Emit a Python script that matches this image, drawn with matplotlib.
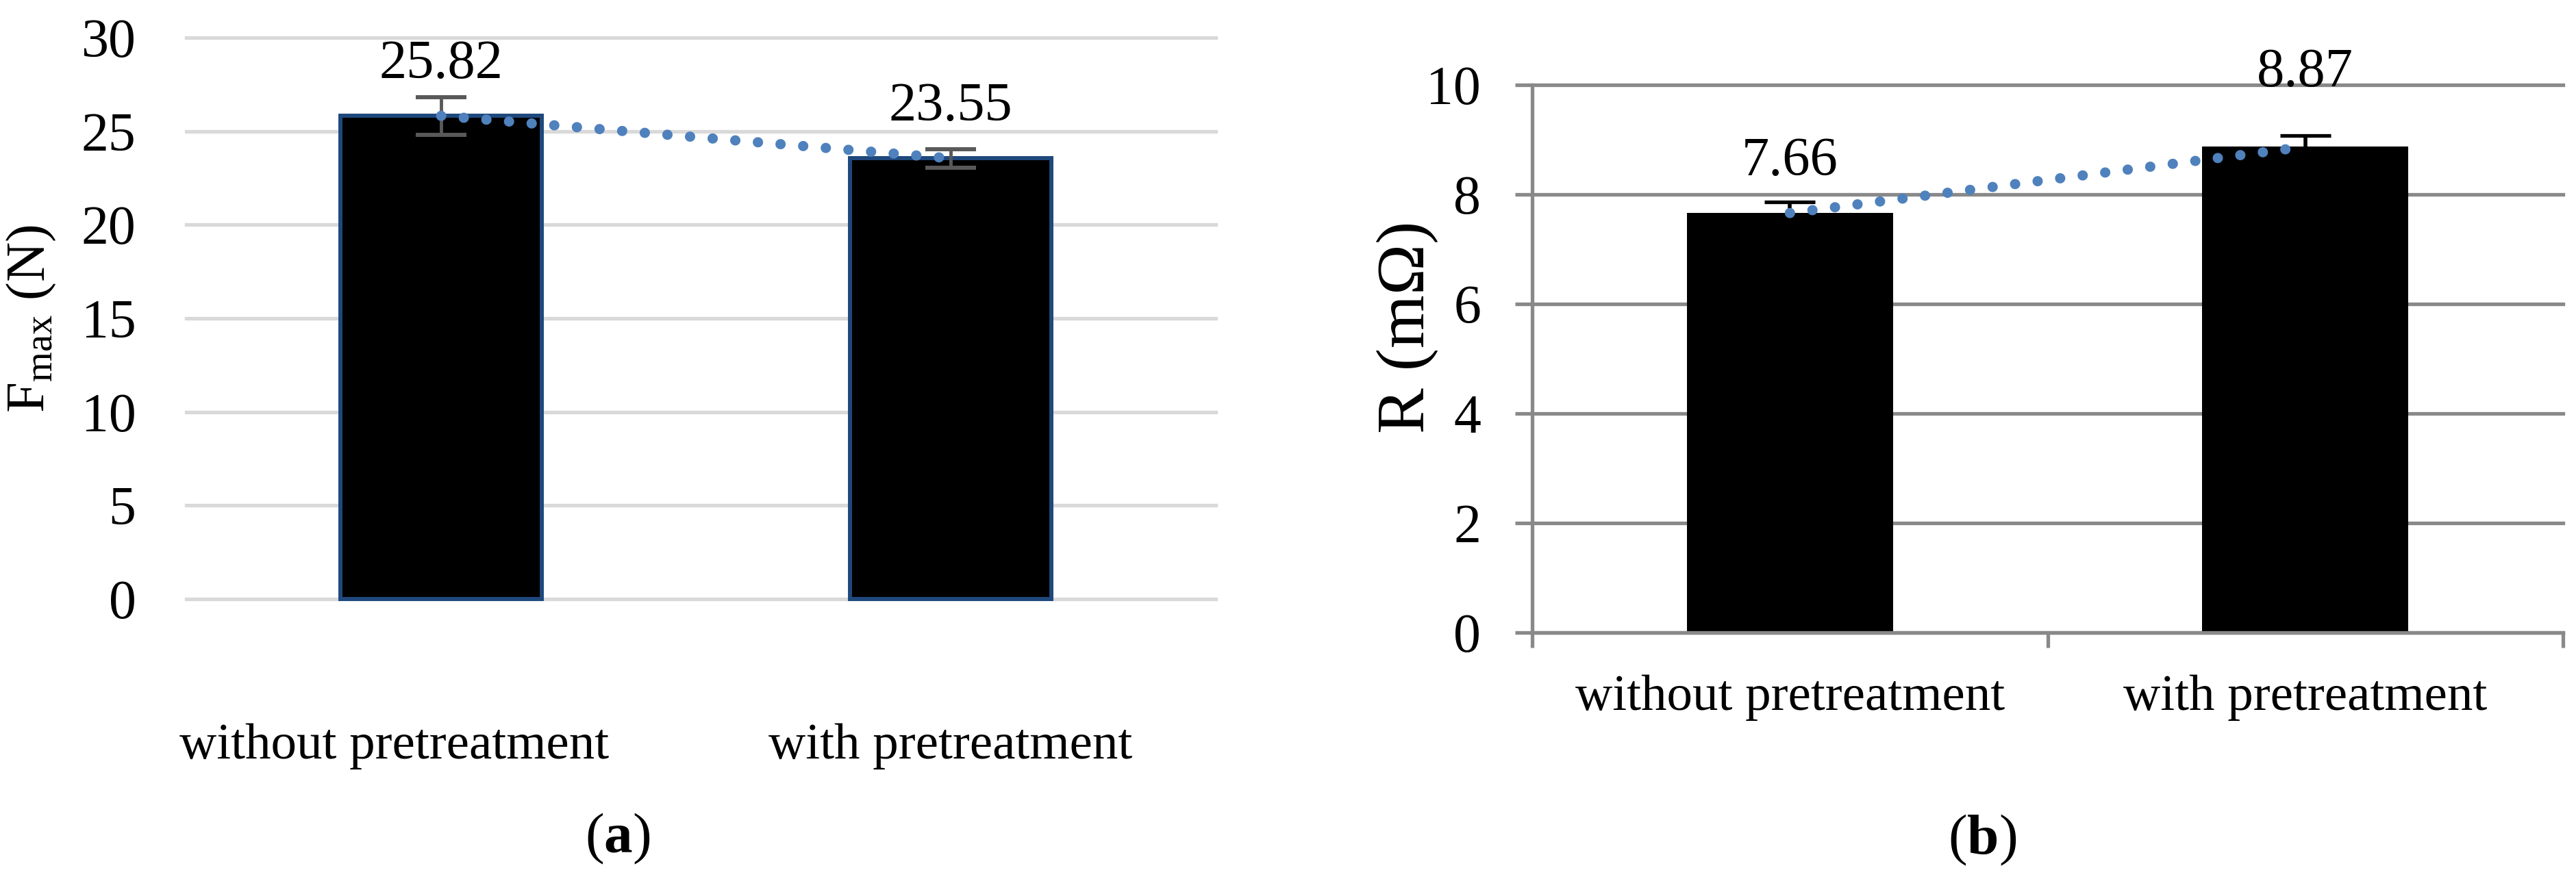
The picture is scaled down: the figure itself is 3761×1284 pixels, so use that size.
import matplotlib
matplotlib.use("Agg")
import matplotlib.pyplot as plt
from matplotlib.transforms import ScaledTranslation

#fonts: Times-like serif, mathtext in the same family
plt.rcParams['font.family'] = ['Liberation Serif', 'DejaVu Serif']
plt.rcParams['mathtext.fontset'] = 'custom'
plt.rcParams['mathtext.rm'] = 'Liberation Serif'
plt.rcParams['mathtext.bf'] = 'Liberation Serif:bold'
plt.rcParams['mathtext.it'] = 'Liberation Serif:italic'

#data
categories = ["without pretreatment", "with pretreatment"]
fmax_values = [25.82, 23.55]
fmax_errors = [1.0, 0.5]
r_values = [7.66, 8.87]
r_errors = [0.2, 0.2]
fmax_ticks = [0, 5, 10, 15, 20, 25, 30]
r_ticks = [0, 2, 4, 6, 8, 10]

#figure in pixels (dpi 100 -> 1 px = 0.72 pt)
W, H = 3762, 1284
fig = plt.figure(figsize=(W / 100, H / 100), dpi=100)


def px_rect(left, top, right, bottom):
    return [left / W, 1 - bottom / H, (right - left) / W, (bottom - top) / H]


x = list(range(len(categories)))
dot_style = dict(color='#4f81bd', linewidth=10.8, linestyle=(0, (0.01, 2.2)),
                 dash_capstyle='round', zorder=4)

#----- panel (a): Fmax -----
ax1 = fig.add_axes(px_rect(272, 55, 1775, 875))
ax1.set_axisbelow(True)
bars1 = ax1.bar(x, fmax_values, width=0.395, color='black', edgecolor='#1f497d',
                linewidth=4.3, zorder=2)
for b in bars1:
    b.set_clip_on(False)
ax1.errorbar(x, fmax_values, yerr=fmax_errors, fmt='none', ecolor='#595959',
             elinewidth=3.5, capsize=26.6, capthick=4.3, zorder=3)
ax1.plot(x, fmax_values, **dot_style)

ax1.set_xlim(-0.5, 1.52)
ax1.set_ylim(0, 30)
ax1.set_yticks(fmax_ticks)
ax1.yaxis.grid(True, color='#d9d9d9', linewidth=3.8)
for gl in ax1.yaxis.get_gridlines():
    gl.set_clip_on(False)
for s in ax1.spines.values():
    s.set_visible(False)
ax1.tick_params(axis='y', length=0, pad=53, labelsize=57.5)
ax1.set_xticks(x)
ax1.set_xticklabels(categories)
ax1.tick_params(axis='x', length=0, pad=131, labelsize=54)
#first category label sits a bit left of its bar in the original
lbl = ax1.get_xticklabels()[0]
lbl.set_transform(lbl.get_transform() + ScaledTranslation(-0.68, 0, fig.dpi_scale_trans))

for xi, v, off in zip(x, fmax_values, [39.6, 39.6]):
    ax1.annotate(f"{v:.2f}", (xi, v), xytext=(0, off), textcoords='offset points',
                 ha='center', va='baseline', fontsize=58)

fig.text(46 / W, 1 - 466 / H, r"F$_{\mathrm{max}}$ (N)", rotation=90,
         ha='center', va='center', fontsize=58)
fig.text(902 / W, 1 - 1245 / H, r"$(\mathbf{a})$", ha='center', va='baseline', fontsize=60)

#----- panel (b): R -----
grey = '#898989'
ax2 = fig.add_axes(px_rect(2237, 124, 3742, 924))
ax2.set_axisbelow(True)
ax2.bar(x, r_values, width=0.40, color='black', zorder=2)
ax2.errorbar(x, r_values, yerr=r_errors, fmt='none', ecolor='black',
             elinewidth=4, capsize=26.6, capthick=3.8, zorder=3)
ax2.plot(x, r_values, **dot_style)

ax2.set_xlim(-0.5, 1.5)
ax2.set_ylim(0, 10)
ax2.set_yticks(r_ticks)
ax2.yaxis.grid(True, color=grey, linewidth=3.8)
for gl in ax2.yaxis.get_gridlines():
    gl.set_clip_on(False)
ax2.spines['top'].set_visible(False)
ax2.spines['right'].set_visible(False)
for side in ['left', 'bottom']:
    ax2.spines[side].set_color(grey)
    ax2.spines[side].set_linewidth(3.8)
ax2.tick_params(axis='y', direction='out', length=18, width=3.8, color=grey,
                pad=36, labelsize=57.5)
ax2.set_xticks(x)
ax2.set_xticklabels(categories)
ax2.set_xticks([-0.5, 0.5, 1.5], minor=True)
ax2.tick_params(axis='x', which='major', length=0, pad=44, labelsize=54)
ax2.tick_params(axis='x', which='minor', direction='out', length=16, width=3.8, color=grey)

for xi, v, off in zip(x, r_values, [39.6, 64.0]):
    ax2.annotate(f"{v:.2f}", (xi, v), xytext=(0, off), textcoords='offset points',
                 ha='center', va='baseline', fontsize=58)

fig.text(2055 / W, 1 - 478 / H, "R (m\u03a9)", rotation=90,
         ha='center', va='center', fontsize=72)
fig.text(2894 / W, 1 - 1247 / H, r"$(\mathbf{b})$", ha='center', va='baseline', fontsize=60)

fig.savefig("out.png", dpi=100)
